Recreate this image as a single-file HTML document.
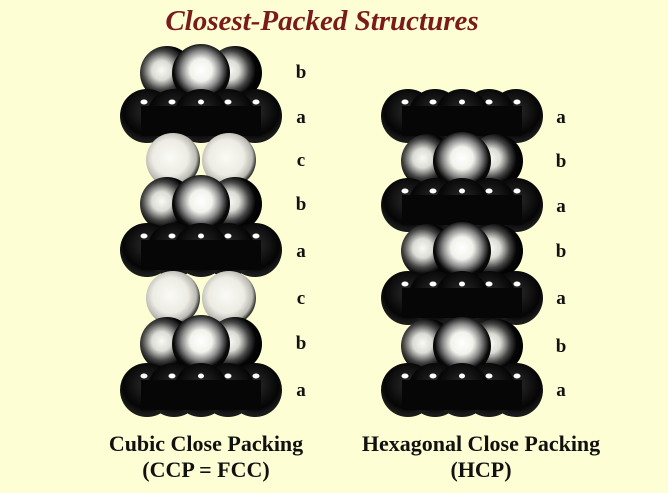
<!DOCTYPE html>
<html><head><meta charset="utf-8"><style>
html,body{margin:0;padding:0;background:#fefed4;}
svg{display:block}
</style></head><body>
<svg width="668" height="493" viewBox="0 0 668 493" xmlns="http://www.w3.org/2000/svg">
<defs>
<radialGradient id="gd" cx="50%" cy="40%" r="55%">
<stop offset="0" stop-color="#2a2a2a"/><stop offset="0.8" stop-color="#050505"/><stop offset="1" stop-color="#1a1a1a"/>
</radialGradient>
<radialGradient id="gb" cx="50%" cy="45%" r="55%">
<stop offset="0" stop-color="#ffffff"/><stop offset="0.35" stop-color="#f2f2ec"/><stop offset="0.6" stop-color="#8a8a8a"/><stop offset="0.85" stop-color="#0a0a0a"/><stop offset="1" stop-color="#000"/>
</radialGradient>
<radialGradient id="gs" cx="40%" cy="45%" r="60%">
<stop offset="0" stop-color="#fafaf5"/><stop offset="0.3" stop-color="#dcdcd6"/><stop offset="0.6" stop-color="#444"/><stop offset="0.8" stop-color="#050505"/><stop offset="1" stop-color="#000"/>
</radialGradient>
<radialGradient id="gc" cx="45%" cy="45%" r="55%">
<stop offset="0" stop-color="#fbfbf6"/><stop offset="0.6" stop-color="#ececE4"/><stop offset="0.88" stop-color="#b8b8b0"/><stop offset="1" stop-color="#3a3a3a"/>
</radialGradient>
<g id="arow">
<circle cx="-54" cy="0" r="27" fill="url(#gd)"/>
<circle cx="54" cy="0" r="27" fill="url(#gd)"/>
<circle cx="-27" cy="0" r="27" fill="url(#gd)"/>
<circle cx="27" cy="0" r="27" fill="url(#gd)"/>
<circle cx="0" cy="0" r="27" fill="url(#gd)"/>
<rect x="-60" y="-10" width="120" height="30" fill="#060606"/>
<ellipse cx="-57" cy="-14" rx="3.5" ry="2.5" fill="#fff"/>
<ellipse cx="-29" cy="-14" rx="3.5" ry="2.5" fill="#fff"/>
<ellipse cx="0" cy="-14" rx="3" ry="2.5" fill="#fff"/>
<ellipse cx="27" cy="-14" rx="3.5" ry="2.5" fill="#fff"/>
<ellipse cx="55" cy="-14" rx="3.5" ry="2.5" fill="#fff"/>
</g>
<g id="brow">
<circle cx="-34" cy="0" r="27" fill="url(#gs)"/>
<circle cx="34" cy="0" r="27" fill="url(#gs)"/>
<circle cx="0" cy="0" r="29" fill="url(#gb)"/>
</g>
<g id="crow">
<circle cx="-28" cy="0" r="27" fill="url(#gc)"/>
<circle cx="28" cy="0" r="27" fill="url(#gc)"/>
</g>
</defs>
<text x="322" y="30" text-anchor="middle" font-family="Liberation Serif, serif" font-style="italic" font-weight="bold" font-size="29" fill="#7a1a1a">Closest-Packed Structures</text>

<use href="#brow" x="201" y="73"/>
<use href="#arow" x="201" y="116"/>
<use href="#crow" x="201" y="160"/>
<use href="#brow" x="201" y="204"/>
<use href="#arow" x="201" y="250"/>
<use href="#crow" x="201" y="298"/>
<use href="#brow" x="201" y="344"/>
<use href="#arow" x="201" y="390"/>

<use href="#arow" x="462" y="116"/>
<use href="#brow" x="462" y="161"/>
<use href="#arow" x="462" y="205"/>
<use href="#brow" x="462" y="251"/>
<use href="#arow" x="462" y="298"/>
<use href="#brow" x="462" y="346"/>
<use href="#arow" x="462" y="390"/>

<g font-family="Liberation Serif, serif" font-weight="bold" font-size="19" fill="#111" text-anchor="middle">
<text x="301" y="78">b</text>
<text x="301" y="123">a</text>
<text x="301" y="166">c</text>
<text x="301" y="210">b</text>
<text x="301" y="257">a</text>
<text x="301" y="304">c</text>
<text x="301" y="349">b</text>
<text x="301" y="396">a</text>
<text x="561" y="123">a</text>
<text x="561" y="167">b</text>
<text x="561" y="212">a</text>
<text x="561" y="257">b</text>
<text x="561" y="304">a</text>
<text x="561" y="352">b</text>
<text x="561" y="396">a</text>
</g>
<g font-family="Liberation Serif, serif" font-weight="bold" font-size="22" fill="#111" text-anchor="middle">
<text x="206" y="451">Cubic Close Packing</text>
<text x="206" y="477">(CCP = FCC)</text>
<text x="481" y="451">Hexagonal Close Packing</text>
<text x="481" y="477">(HCP)</text>
</g>
</svg>
</body></html>
